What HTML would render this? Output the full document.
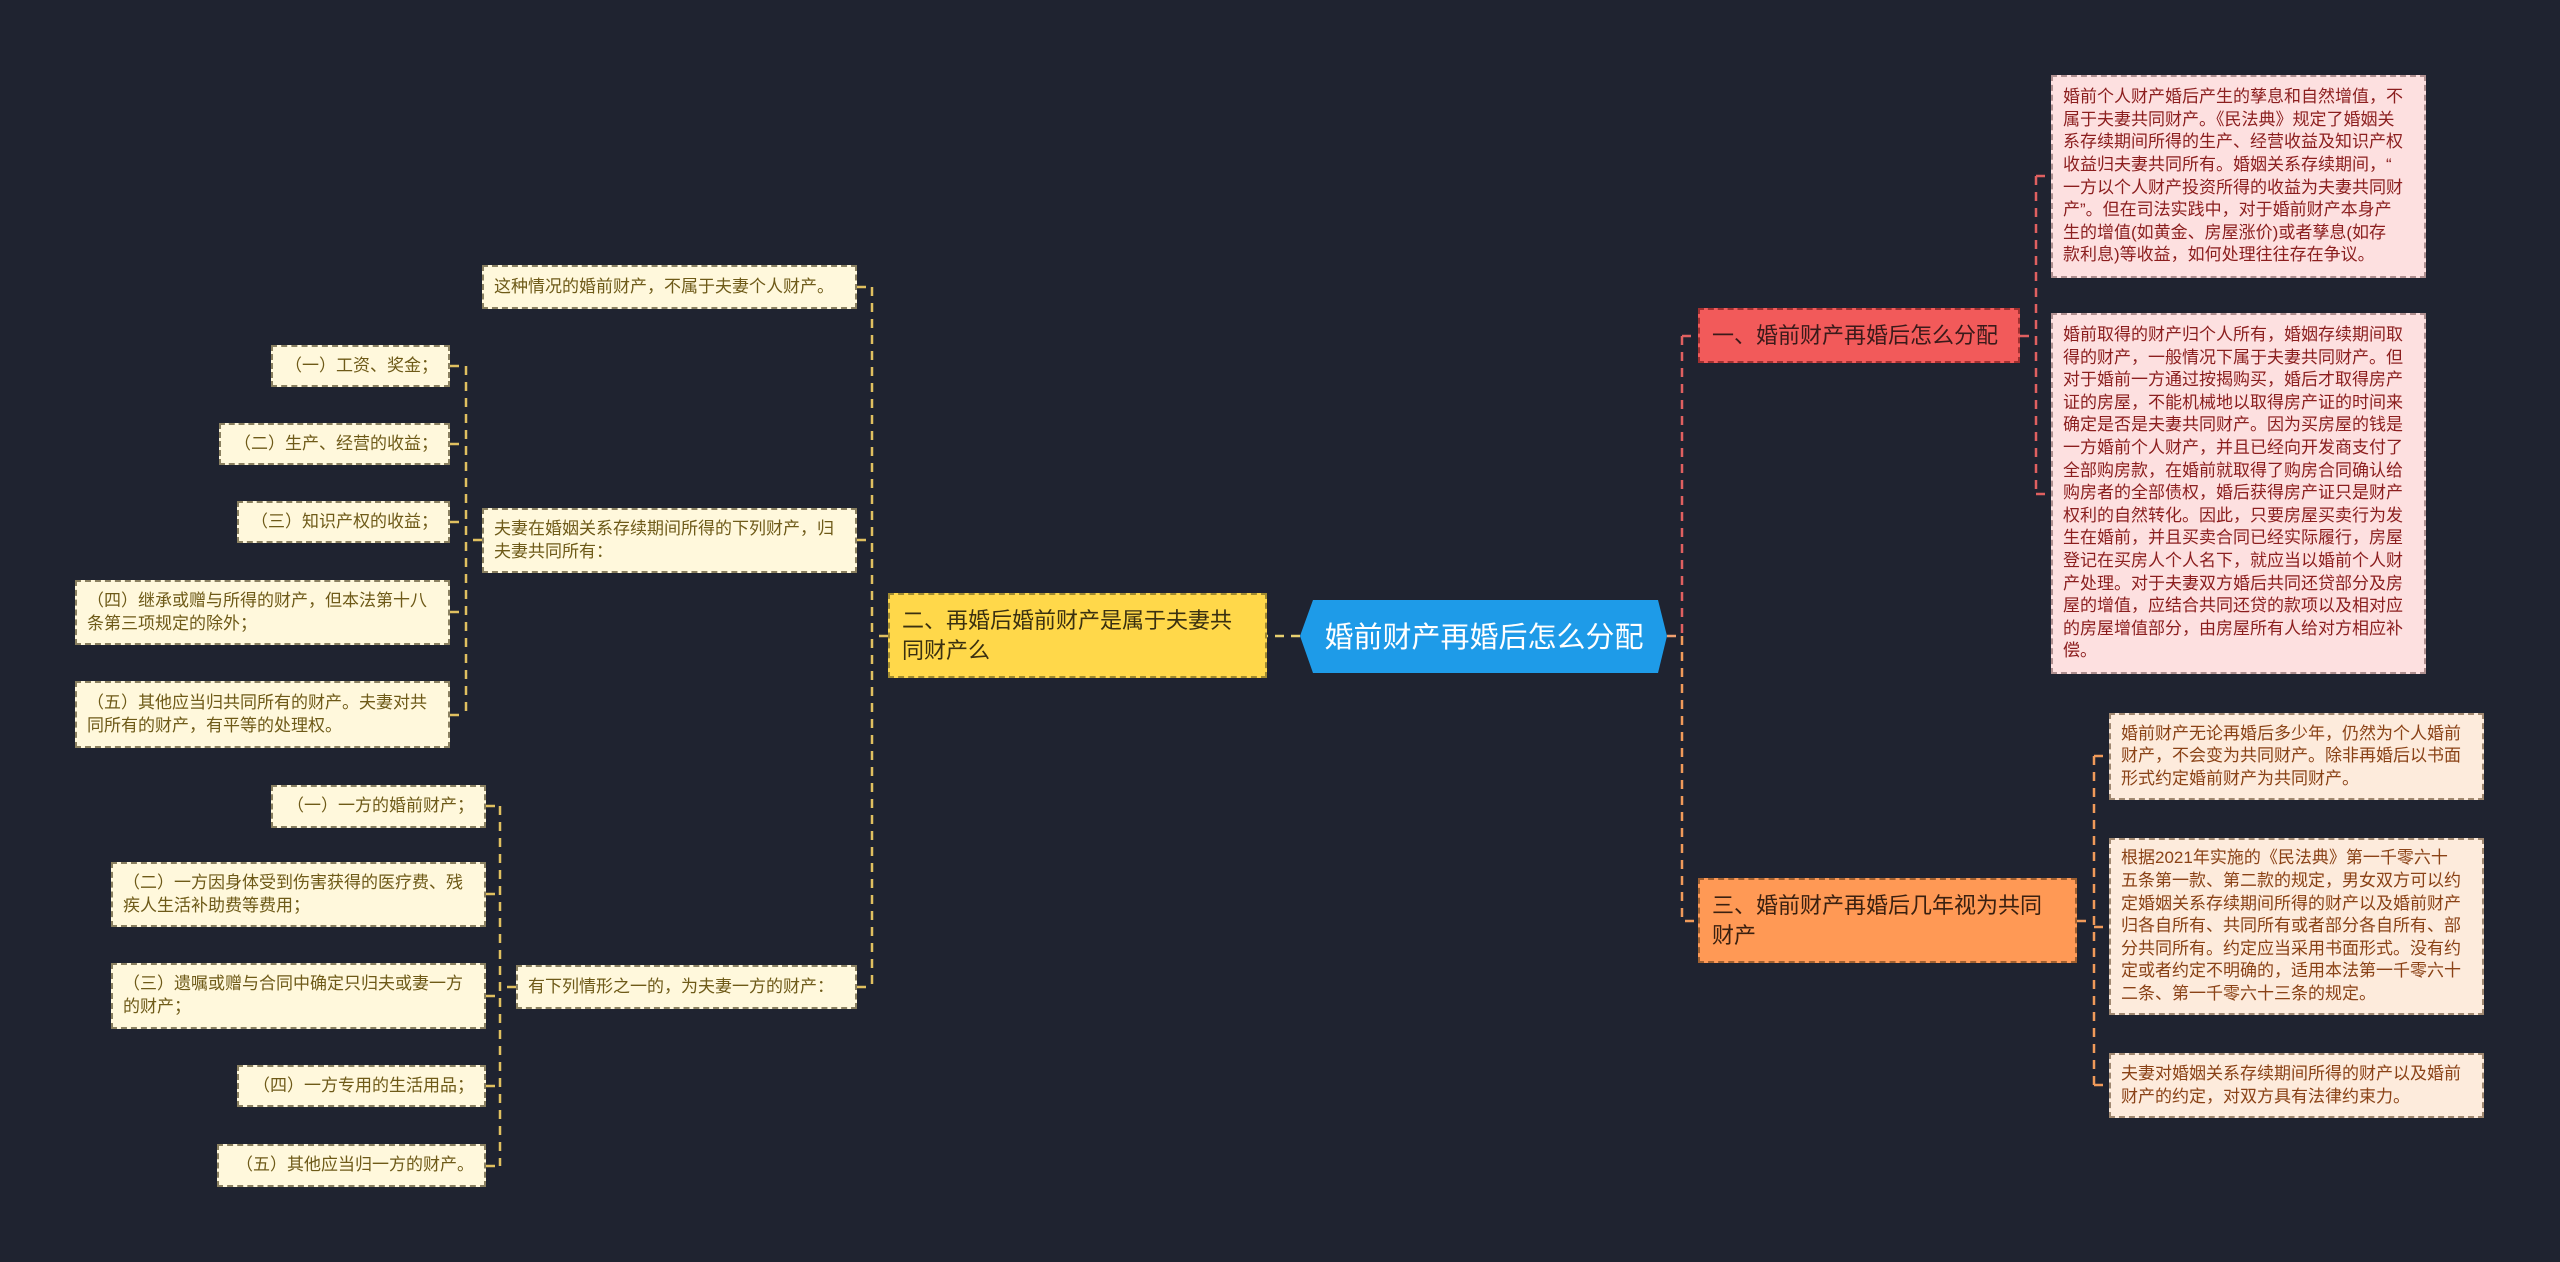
<!DOCTYPE html>
<html><head><meta charset="utf-8">
<style>
html,body{margin:0;padding:0}
body{width:2560px;height:1262px;background:#1f2330;position:relative;overflow:hidden;font-family:"Liberation Sans","Noto Sans CJK SC",sans-serif}
.b{position:absolute;box-sizing:border-box;font-size:17px;line-height:22.6px;white-space:nowrap;display:flex;flex-direction:column;justify-content:center;padding:0 10px}
.y{background:#fff8dc;color:#6e5a18;border:2px dashed #8a8060}
.y.r{text-align:right}
.p{background:#fde0e0;color:#8b1e1e;border:2px dashed #b09090}
.o{background:#fdebdc;color:#8a4216;border:2px dashed #a08870}
svg{position:absolute;left:0;top:0}
</style></head><body>
<svg width="2560" height="1262" fill="none" stroke-width="2.5" stroke-dasharray="9,7">
<!-- left main -->
<path d="M1300 636 H1267" stroke="#e8d070"/>
<path d="M888 636 H872 M872 287 V987 M857 287 H872 M857 540 H872 M857 987 H872" stroke="#e0c060"/>
<path d="M482 540 H466 M466 366 V715 M450 366 H466 M450 444 H466 M450 522 H466 M450 612 H466 M450 715 H466" stroke="#e0c060"/>
<path d="M516 987 H500 M500 806 V1166 M486 806 H500 M486 894 H500 M486 996 H500 M486 1086 H500 M486 1166 H500" stroke="#e0c060"/>
<!-- right -->
<path d="M1667 636 H1682" stroke="#f0a070"/>
<path d="M1682 336 V636 M1682 336 H1698" stroke="#e06060"/>
<path d="M1682 636 V921 H1698" stroke="#f09a5a"/>
<path d="M2020 336 H2036 M2036 176 V494 M2036 176 H2051 M2036 494 H2051" stroke="#e06060"/>
<path d="M2077 921 H2094 M2094 756 V1085 M2094 756 H2109 M2094 927 H2109 M2094 1085 H2109" stroke="#f09a5a"/>
</svg>

<!-- center -->
<svg width="2560" height="1262"><polygon points="1300,636 1313,600 1658,600 1667,636 1658,673 1313,673" fill="#1e9be8"/><text x="1484" y="647" fill="#fff" font-size="29" text-anchor="middle" font-family="Liberation Sans,Noto Sans CJK SC,sans-serif">婚前财产再婚后怎么分配</text></svg>

<div class="b" style="left:888px;top:593px;width:379px;height:85px;background:#ffd84a;color:#3a3010;font-size:22px;line-height:30px;border:2px dashed #a08a30;padding-left:12px">二、再婚后婚前财产是属于夫妻共<br>同财产么</div>
<div class="b" style="left:1698px;top:308px;width:322px;height:55px;background:#f25a5a;color:#3a1a1a;font-size:22px;line-height:30px;border:2px dashed #a03030;padding-left:12px">一、婚前财产再婚后怎么分配</div>
<div class="b" style="left:1698px;top:878px;width:379px;height:85px;background:#ff9955;color:#3a2010;font-size:22px;line-height:30px;border:2px dashed #a06030;padding-left:12px">三、婚前财产再婚后几年视为共同<br>财产</div>

<div class="b y" style="left:482px;top:265px;width:375px;height:44px">这种情况的婚前财产，不属于夫妻个人财产。</div>
<div class="b y" style="left:482px;top:508px;width:375px;height:65px">夫妻在婚姻关系存续期间所得的下列财产，归<br>夫妻共同所有：</div>
<div class="b y" style="left:516px;top:965px;width:341px;height:44px">有下列情形之一的，为夫妻一方的财产：</div>

<div class="b y r" style="left:271px;top:345px;width:179px;height:42px">（一）工资、奖金；</div>
<div class="b y r" style="left:219px;top:423px;width:231px;height:42px">（二）生产、经营的收益；</div>
<div class="b y r" style="left:237px;top:501px;width:213px;height:42px">（三）知识产权的收益；</div>
<div class="b y" style="left:75px;top:580px;width:375px;height:65px">（四）继承或赠与所得的财产，但本法第十八<br>条第三项规定的除外；</div>
<div class="b y" style="left:75px;top:681px;width:375px;height:67px">（五）其他应当归共同所有的财产。夫妻对共<br>同所有的财产，有平等的处理权。</div>

<div class="b y r" style="left:271px;top:785px;width:215px;height:43px">（一）一方的婚前财产；</div>
<div class="b y" style="left:111px;top:862px;width:375px;height:65px">（二）一方因身体受到伤害获得的医疗费、残<br>疾人生活补助费等费用；</div>
<div class="b y" style="left:111px;top:963px;width:375px;height:66px">（三）遗嘱或赠与合同中确定只归夫或妻一方<br>的财产；</div>
<div class="b y r" style="left:237px;top:1065px;width:249px;height:42px">（四）一方专用的生活用品；</div>
<div class="b y r" style="left:217px;top:1144px;width:269px;height:43px">（五）其他应当归一方的财产。</div>

<div class="b p" style="left:2051px;top:75px;width:375px;height:203px">婚前个人财产婚后产生的孳息和自然增值，不<br>属于夫妻共同财产。《民法典》规定了婚姻关<br>系存续期间所得的生产、经营收益及知识产权<br>收益归夫妻共同所有。婚姻关系存续期间，“<br>一方以个人财产投资所得的收益为夫妻共同财<br>产”。但在司法实践中，对于婚前财产本身产<br>生的增值(如黄金、房屋涨价)或者孳息(如存<br>款利息)等收益，如何处理往往存在争议。</div>
<div class="b p" style="left:2051px;top:313px;width:375px;height:361px">婚前取得的财产归个人所有，婚姻存续期间取<br>得的财产，一般情况下属于夫妻共同财产。但<br>对于婚前一方通过按揭购买，婚后才取得房产<br>证的房屋，不能机械地以取得房产证的时间来<br>确定是否是夫妻共同财产。因为买房屋的钱是<br>一方婚前个人财产，并且已经向开发商支付了<br>全部购房款，在婚前就取得了购房合同确认给<br>购房者的全部债权，婚后获得房产证只是财产<br>权利的自然转化。因此，只要房屋买卖行为发<br>生在婚前，并且买卖合同已经实际履行，房屋<br>登记在买房人个人名下，就应当以婚前个人财<br>产处理。对于夫妻双方婚后共同还贷部分及房<br>屋的增值，应结合共同还贷的款项以及相对应<br>的房屋增值部分，由房屋所有人给对方相应补<br>偿。</div>

<div class="b o" style="left:2109px;top:713px;width:375px;height:87px">婚前财产无论再婚后多少年，仍然为个人婚前<br>财产，不会变为共同财产。除非再婚后以书面<br>形式约定婚前财产为共同财产。</div>
<div class="b o" style="left:2109px;top:838px;width:375px;height:177px">根据2021年实施的《民法典》第一千零六十<br>五条第一款、第二款的规定，男女双方可以约<br>定婚姻关系存续期间所得的财产以及婚前财产<br>归各自所有、共同所有或者部分各自所有、部<br>分共同所有。约定应当采用书面形式。没有约<br>定或者约定不明确的，适用本法第一千零六十<br>二条、第一千零六十三条的规定。</div>
<div class="b o" style="left:2109px;top:1053px;width:375px;height:65px">夫妻对婚姻关系存续期间所得的财产以及婚前<br>财产的约定，对双方具有法律约束力。</div>
</body></html>
